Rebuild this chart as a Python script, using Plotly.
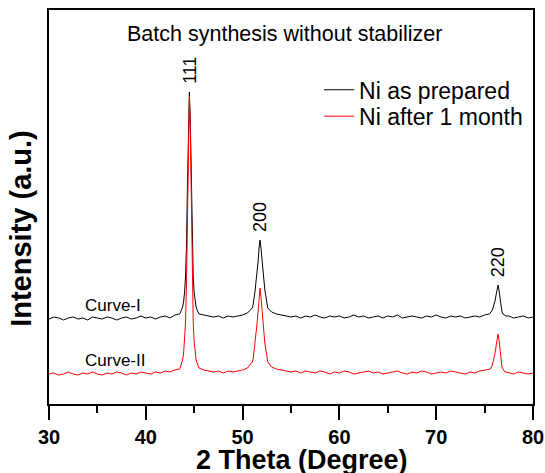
import plotly.graph_objects as go

# ---------------- data ----------------
two_theta = [
    30.0, 30.5, 31.0, 31.5, 32.0, 32.5, 33.0, 33.5, 34.0, 34.5, 35.0, 35.5, 36.0, 36.5,
    37.0, 37.5, 38.0, 38.5, 39.0, 39.5, 40.0, 40.5, 41.0, 41.5, 42.0, 42.5, 43.0, 43.5,
    43.6, 43.7, 43.8, 43.9, 44.0, 44.1, 44.2, 44.3, 44.4, 44.5, 44.6, 44.7, 44.8, 44.9,
    45.0, 45.1, 45.2, 45.3, 45.4,
    45.5, 46.0, 46.5, 47.0, 47.5, 48.0, 48.5, 49.0, 49.5, 50.0, 50.5,
    51.0, 51.1, 51.2, 51.3, 51.4, 51.5, 51.6, 51.7, 51.8, 51.9, 52.0, 52.1, 52.2, 52.3,
    52.4, 52.5, 52.6,
    53.0, 53.5, 54.0, 54.5, 55.0, 55.5, 56.0, 56.5, 57.0, 57.5, 58.0, 58.5, 59.0, 59.5,
    60.0, 60.5, 61.0, 61.5, 62.0, 62.5, 63.0, 63.5, 64.0, 64.5, 65.0, 65.5, 66.0, 66.5,
    67.0, 67.5, 68.0, 68.5, 69.0, 69.5, 70.0, 70.5, 71.0, 71.5, 72.0, 72.5, 73.0, 73.5,
    74.0, 74.5, 75.0, 75.5,
    75.6, 75.7, 75.8, 75.9, 76.0, 76.1, 76.2, 76.3, 76.4, 76.5, 76.6, 76.7, 76.8, 76.9,
    77.0, 77.1, 77.2,
    77.5, 78.0, 78.5, 79.0, 79.5, 80.0,
]

# Curve-I : Ni as prepared (offset upward in the figure)
intensity_as_prepared = [
    85, 87, 86, 84, 86, 87, 85, 86, 84, 87, 86, 85, 87, 86,
    84, 86, 87, 85, 86, 88, 86, 87, 85, 87, 88, 86, 89, 90,
    92, 94, 97, 102, 111, 127, 157, 217, 282, 312, 282, 217, 157, 127,
    111, 102, 97, 94, 92,
    90, 89, 88, 87, 88, 86, 88, 87, 88, 89, 91,
    96, 100, 106, 114, 124, 132, 142, 156, 164, 156, 142, 132, 124, 114,
    106, 100, 96,
    92, 90, 89, 88, 87, 88, 86, 88, 87, 89, 87, 86, 88, 87,
    88, 86, 87, 89, 87, 88, 86, 87, 88, 86, 88, 87, 89, 86,
    87, 88, 87, 86, 88, 87, 89, 87, 86, 88, 87, 88, 86, 87,
    88, 87, 89, 90,
    91, 92, 94, 97, 100, 104, 110, 115, 119, 113, 105, 97, 92, 90,
    89, 88, 88,
    88, 86, 87, 88, 86, 87,
]

# Curve-II : Ni after 1 month
intensity_after_month = [
    30, 31, 29, 30, 32, 30, 29, 31, 30, 32, 30, 29, 31, 30,
    32, 31, 29, 31, 30, 32, 31, 30, 32, 31, 33, 32, 34, 35,
    38, 41, 44, 50, 62, 81, 118, 192, 272, 308, 272, 192, 118, 81,
    62, 50, 44, 41, 38,
    36, 34, 33, 32, 33, 31, 33, 32, 33, 34, 36,
    42, 46, 53, 61, 72, 81, 92, 107, 116, 107, 92, 81, 72, 61,
    53, 46, 42,
    37, 35, 34, 33, 32, 33, 31, 33, 32, 31, 33, 32, 30, 32,
    31, 33, 32, 30, 31, 32, 33, 31, 32, 30, 31, 32, 33, 31,
    30, 32, 31, 33, 32, 30, 31, 32, 31, 33, 32, 31, 30, 32,
    31, 33, 34, 35,
    35, 37, 39, 43, 47, 52, 59, 66, 70, 63, 53, 43, 37, 35,
    33, 32, 32,
    31, 30, 32, 31, 30, 31,
]

series_names = ["Ni as prepared", "Ni after 1 month"]
peak_labels = ["111", "200", "220"]
peak_positions = [44.5, 51.8, 76.4]
peak_heights = [312, 164, 119]
curve_labels = ["Curve-I", "Curve-II"]
curve_label_pos = [(33.5, 99), (33.5, 44)]
x_tick_vals = [30, 40, 50, 60, 70, 80]
title_text = "Batch synthesis without stabilizer"
x_title = "2 Theta (Degree)"
y_title = "Intensity (a.u.)"

# ---------------- figure ----------------
FONT = "Liberation Sans, Arial, sans-serif"

fig = go.Figure()
fig.add_trace(go.Scatter(x=two_theta, y=intensity_as_prepared, mode="lines",
                         name=series_names[0], legend="legend",
                         line=dict(color="#000000", width=1)))
fig.add_trace(go.Scatter(x=two_theta, y=intensity_after_month, mode="lines",
                         name=series_names[1], legend="legend2",
                         line=dict(color="#ff0000", width=1)))

annotations = []
for lab, px, py in zip(peak_labels, peak_positions, peak_heights):
    annotations.append(dict(x=px, y=py, xref="x", yref="y", text=lab, showarrow=False,
                            textangle=-90, yanchor="bottom", xanchor="center", yshift=6,
                            font=dict(family=FONT, size=18, color="black")))
for lab, (cx, cy) in zip(curve_labels, curve_label_pos):
    annotations.append(dict(x=cx, y=cy, xref="x", yref="y", text=lab, showarrow=False,
                            xanchor="left", yanchor="middle",
                            font=dict(family=FONT, size=17, color="black")))
annotations.append(dict(x=0.4876, y=0.94, xref="paper", yref="paper", text=title_text,
                        showarrow=False, xanchor="center", yanchor="middle",
                        font=dict(family=FONT, size=21.5, color="black")))
annotations.append(dict(x=0.523, y=-0.142, xref="paper", yref="paper", text=x_title,
                        showarrow=False, xanchor="center", yanchor="middle",
                        font=dict(family=FONT, size=27, color="black", weight="bold")))
annotations.append(dict(x=-0.058, y=0.447, xref="paper", yref="paper", text=y_title,
                        showarrow=False, xanchor="center", yanchor="middle", textangle=-90,
                        font=dict(family=FONT, size=29, color="black", weight="bold")))

legend_style = dict(xanchor="left", yanchor="top", bgcolor="rgba(0,0,0,0)",
                    borderwidth=0, font=dict(family=FONT, size=23, color="black"))

fig.update_layout(
    width=545, height=473,
    margin=dict(l=49, r=12, t=10, b=69, autoexpand=False),
    paper_bgcolor="white", plot_bgcolor="white",
    showlegend=True,
    legend=dict(x=0.558, y=0.852, **legend_style),
    legend2=dict(x=0.558, y=0.785, **legend_style),
    annotations=annotations,
)
fig.update_xaxes(range=[30, 80], tickvals=x_tick_vals, ticks="outside", ticklen=14,
                 tickwidth=2, tickcolor="black", showline=True, linewidth=2,
                 linecolor="black", mirror=True, showgrid=False, zeroline=False,
                 automargin=False,
                 minor=dict(dtick=5, ticks="outside", ticklen=7, tickwidth=2,
                            tickcolor="black", showgrid=False),
                 tickfont=dict(family=FONT, size=20, color="black", weight="bold"))
fig.update_yaxes(range=[0, 394], showticklabels=False, ticks="", showline=True,
                 linewidth=2, linecolor="black", mirror=True, showgrid=False,
                 zeroline=False, automargin=False)

fig.write_html("out.html")
